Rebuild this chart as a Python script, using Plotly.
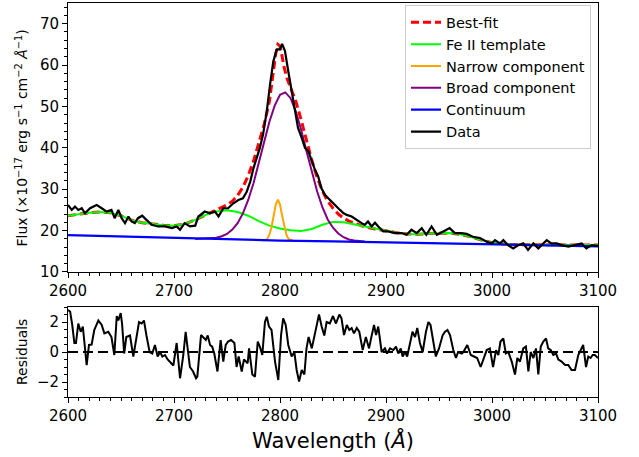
import plotly.graph_objects as go

# ---------------- data ----------------
wave_obs = [2600, 2603.5, 2606.6, 2609.7, 2613, 2616, 2620.8, 2627, 2631.8, 2636.5, 2641, 2644, 2647.5,
            2650.6, 2653.8, 2657, 2660, 2663, 2666, 2670, 2674, 2679, 2685, 2691.5, 2698, 2702.5, 2705.7,
            2710, 2715, 2720, 2723, 2729, 2734, 2738.7, 2742, 2746.5, 2751, 2756, 2760.7, 2765, 2768.6,
            2772, 2775, 2778, 2781, 2784, 2787.5, 2790.6, 2793.7, 2797, 2800, 2802, 2804.7, 2807.8, 2811,
            2814, 2817, 2820.5, 2823.6, 2826.7, 2830, 2833, 2836, 2839, 2842.5, 2847, 2852, 2856.6, 2860,
            2863, 2867.6, 2872, 2877, 2880, 2883, 2886.5, 2889.6, 2892.7, 2897.5, 2902, 2908.5, 2914.8,
            2919.5, 2924, 2929, 2933.7, 2938, 2943, 2948, 2954, 2960, 2965, 2971, 2976, 2982, 2988.7, 2995,
            2999.7, 3002.8, 3007.5, 3010.7, 3015, 3020, 3025, 3029.5, 3034, 3039, 3043.7, 3048, 3051.6,
            3056, 3061, 3065.7, 3072, 3078, 3084.6, 3089, 3094, 3100]
flux_obs = [26.2, 25.0, 25.8, 25.0, 25.4, 24.2, 25.4, 26.2, 25.4, 24.6, 25.0, 23.0, 25.0,
            23.0, 21.8, 23.4, 22.2, 21.8, 23.0, 23.6, 22.6, 21.4, 21.0, 21.0, 20.6, 21.0, 20.2,
            21.8, 21.0, 21.2, 23.4, 24.6, 24.2, 24.6, 23.4, 25.4, 25.4, 26.6, 27.4, 27.8, 29.4,
            31.9, 35.1, 37.5, 40.0, 43.2, 48.8, 55.3, 60.9, 63.8, 63.8, 65.1, 63.4, 58.5, 53.7,
            49.7, 44.8, 42.4, 40.0, 39.2, 36.8, 34.7, 33.1, 30.3, 28.6, 27.4, 26.2, 25.0, 24.2,
            23.8, 23.4, 22.6, 21.8, 21.4, 22.2, 21.0, 21.9, 21.0, 19.8, 19.8, 19.4, 19.4,
            19.0, 20.2, 19.4, 20.6, 19.0, 21.0, 19.0, 19.8, 20.6, 19.4, 19.4, 19.2, 18.5, 18.2, 17.3,
            16.9, 17.7, 16.9, 17.7, 16.5, 15.7, 16.5, 16.9, 15.3, 16.9, 15.7, 16.9, 17.7,
            16.9, 16.9, 16.5, 16.1, 16.5, 16.9, 15.7, 16.5, 16.3]

wave_fit = [2600, 2610, 2620, 2630, 2640, 2650, 2660, 2670, 2680, 2690, 2700, 2710, 2720, 2730, 2740,
            2745, 2750, 2755, 2760, 2765, 2770, 2775, 2780, 2785, 2790, 2793, 2796, 2798, 2800, 2802,
            2804, 2807, 2810, 2815, 2820, 2825, 2830, 2835, 2840, 2845, 2850, 2855, 2860, 2865, 2870,
            2875, 2880, 2890, 2900, 2910, 2920, 2930, 2940, 2950, 2960, 2970, 2980, 2990, 3000, 3010,
            3020, 3030, 3040, 3050, 3060, 3070, 3080, 3090, 3100]
flux_fit = [23.6, 24.0, 24.3, 24.5, 24.3, 23.6, 22.5, 21.9, 21.6, 21.3, 21.2, 21.6, 22.6, 23.8, 24.9,
            25.5, 26.2, 27.1, 28.5, 30.5, 33.3, 36.8, 40.9, 45.6, 51.2, 56.7, 62.8, 65.0, 64.6, 62.1,
            59.3, 56.5, 54.6, 51.2, 46.7, 41.8, 37.0, 32.9, 29.6, 27.1, 25.4, 24.0, 23.0, 22.3, 21.8,
            21.3, 20.9, 20.4, 19.9, 19.5, 19.2, 19.1, 19.3, 19.4, 19.4, 19.1, 18.5, 17.7, 17.1, 16.8,
            16.6, 16.6, 16.6, 16.6, 16.6, 16.6, 16.5, 16.5, 16.5]

wave_fe = [2600, 2610, 2620, 2630, 2640, 2650, 2660, 2670, 2680, 2690, 2700, 2710, 2720, 2730, 2740,
           2750, 2760, 2770, 2780, 2790, 2800, 2810, 2820, 2830, 2840, 2850, 2860, 2870, 2880, 2890,
           2900, 2910, 2920, 2930, 2940, 2950, 2960, 2970, 2980, 2990, 3000, 3010, 3020, 3030, 3040,
           3050, 3060, 3070, 3080, 3090, 3100]
flux_fe = [23.6, 24.0, 24.3, 24.5, 24.3, 23.6, 22.5, 21.9, 21.6, 21.3, 21.2, 21.6, 22.6, 23.8, 24.6,
           24.9, 24.5, 23.6, 22.3, 21.2, 20.5, 20.1, 19.9, 20.4, 21.4, 22.1, 22.0, 21.5, 20.9, 20.4,
           19.9, 19.5, 19.2, 19.1, 19.3, 19.4, 19.4, 19.1, 18.5, 17.7, 17.1, 16.8, 16.6, 16.6, 16.6,
           16.6, 16.6, 16.6, 16.5, 16.5, 16.5]

wave_narrow = [2784, 2786, 2788, 2790, 2792, 2794, 2796, 2798, 2800, 2802, 2804, 2806, 2808, 2810, 2812]
flux_narrow = [17.6, 17.7, 18.0, 19.0, 20.8, 23.6, 26.3, 27.5, 26.3, 23.6, 20.8, 19.0, 18.0, 17.7, 17.6]

wave_broad = [2720, 2730, 2740, 2745, 2750, 2755, 2760, 2765, 2770, 2775, 2780, 2785, 2790, 2795, 2800,
              2805, 2810, 2815, 2820, 2825, 2830, 2835, 2840, 2845, 2850, 2855, 2860, 2865, 2870, 2880]
flux_broad = [18.0, 18.1, 18.3, 18.65, 19.2, 20.25, 21.8, 24.15, 27.4, 31.45, 36.2, 41.4, 46.3, 50.2, 52.8,
              53.4, 52.0, 48.7, 44.3, 39.2, 34.1, 29.5, 25.65, 22.7, 20.7, 19.3, 18.4, 17.85, 17.6, 17.35]

wave_cont = [2600, 2650, 2700, 2750, 2800, 2850, 2900, 2950, 3000, 3050, 3100]
flux_cont = [18.9, 18.55, 18.2, 17.9, 17.6, 17.4, 17.2, 16.95, 16.7, 16.45, 16.2]

wave_res = [2600, 2602, 2604, 2606, 2607.5, 2609.7, 2612, 2614, 2615.4, 2617.6, 2619.8, 2622.3, 2624.8,
            2628.6, 2631.8, 2634.3, 2638, 2641, 2643.7, 2646, 2647.5, 2649.7, 2651, 2653, 2655, 2658.5,
            2661.6, 2663.8, 2667, 2669.5, 2671.7, 2674, 2677, 2679.5, 2682, 2684.6, 2686.8, 2689, 2691.5,
            2694, 2697, 2699.4, 2702.5, 2705.7, 2708.8, 2711, 2715, 2718, 2720.8, 2722, 2725.5, 2727.6,
            2730, 2731.8, 2734, 2736, 2738, 2741, 2744, 2746.5, 2748.8, 2751, 2753.8, 2757, 2759, 2761,
            2763.9, 2766, 2769.5, 2770.8, 2773.9, 2776.4, 2779, 2781, 2783.3, 2785.8, 2787.5, 2789.6,
            2792, 2795.3, 2798.4, 2801, 2803, 2805.4, 2807.8, 2811, 2813.5, 2815.7, 2818, 2820.5, 2823,
            2825, 2827, 2830, 2832.4, 2834.6, 2836.8, 2839.3, 2841.8, 2844, 2847, 2850, 2852.8, 2856,
            2858, 2860.4, 2863, 2865.4, 2867.6, 2869.8, 2872.4, 2874.8, 2878, 2881, 2884, 2886.5, 2888.7,
            2890.6, 2892.7, 2895.9, 2899, 2901, 2903.8, 2906.9, 2909.4, 2911.6, 2913.9, 2915.7, 2918,
            2920, 2922.6, 2925, 2927.4, 2929.5, 2932, 2934.6, 2937.7, 2940, 2942, 2944.6, 2947, 2950,
            2953.5, 2955.7, 2958, 2960.4, 2963.5, 2966, 2968, 2971.4, 2973, 2976.7, 2980, 2983, 2986,
            2989.3, 2991.8, 2995, 2998, 3001, 3003.8, 3006, 3008, 3010.7, 3013, 3015.4, 3018.6, 3021.7,
            3023.9, 3026.4, 3029.5, 3032, 3034.3, 3036.5, 3039, 3041.5, 3043.7, 3046, 3048.4, 3051,
            3053, 3055.4, 3057.8, 3060.4, 3062.6, 3065.7, 3068.9, 3072, 3075, 3078.3, 3081.4, 3083.7,
            3086, 3088.7, 3090.8, 3093, 3095, 3097, 3100]
res = [2.8, 2.7, 1.8, 0.6, 0.6, 1.9, 1.35, 1.7, 0.7, -0.87, 0.47, 0.5, 1.47,
       2.1, 1.8, 1.24, 1.35, 1.0, -0.2, 2.4, 2.1, 2.6, 1.9, -0.1, 1.0, 1.1,
       -0.3, 0.7, 2.0, 1.9, 2.1, 1.1, 0.0, -0.1, 0.47, -0.3, 0.0, -0.3, -0.2,
       -0.5, -0.75, -0.9, 0.6, -1.75, -0.2, 1.35, -1.0, -1.3, -1.75, -1.64, 1.13, 1.0,
       0.8, 1.1, 0.47, 0.36, -0.1, -1.3, 0.8, -0.64, 0.47, 0.7, 0.8, 0.6, -1.0, -0.3,
       -1.3, -0.5, -0.75, 0.24, -1.5, -1.64, 0.7, 0.36, -0.2, 2.0, 2.35, 1.7,
       1.47, -0.64, -1.87, 1.13, 2.24, 1.8, 0.47, -0.3, 0.0, -1.2, -1.97, -1.2, -1.5,
       0.24, 1.0, 0.24, 1.13, 1.8, 2.5, 1.7, 1.1, 2.0, 1.9, 2.4, 1.9, 2.5,
       2.24, 1.13, 1.8, 1.47, 1.6, 1.24, 1.6, 1.35, 0.13, 1.0, 0.24, 1.1, 1.8,
       1.13, 1.7, 0.0, 0.24, -0.1, 0.24, 0.13, 0.36, -0.1, 0.24, -0.3, 0.0,
       -0.3, 0.7, 1.35, 1.0, 1.6, 0.6, 0.0, 1.35, 2.0, 1.8, 0.7, -0.3, 0.24,
       1.13, 1.35, 1.47, 1.13, 0.13, -0.4, 0.0, -0.1, 0.0, 0.47, -0.2, -0.3, -0.4,
       -1.0, -0.5, 0.13, 0.24, -1.0, 0.13, -0.2, 0.7, 0.9, -0.1, 0.0, -0.64, -1.5,
       -0.4, -0.64, 0.24, 0.36, -1.3, 0.0, -0.4, 0.24, -1.5, 0.36, 0.7, 0.9,
       0.24, 0.13, -0.2, -0.1, -0.5, -0.64, -0.87, -0.87, -1.2, -1.2, -0.2, 0.13,
       0.47, -1.0, -0.3, -0.4, -0.2, -0.2, -0.4]

x_range = [2600, 3100]
flux_range = [10, 75]
res_range = [-3, 3]

# ---------------- figure ----------------
FONT = "DejaVu Sans"
fig = go.Figure()

fig.add_trace(go.Scatter(x=wave_fit, y=flux_fit, mode="lines", name="Best-fit",
                         line=dict(color="#ff0000", width=3, dash="8px,4px"), xaxis="x", yaxis="y"))
fig.add_trace(go.Scatter(x=wave_fe, y=flux_fe, mode="lines", name="Fe II template",
                         line=dict(color="#00ff00", width=2), xaxis="x", yaxis="y"))
fig.add_trace(go.Scatter(x=wave_narrow, y=flux_narrow, mode="lines", name="Narrow component",
                         line=dict(color="#ffa500", width=2), xaxis="x", yaxis="y"))
fig.add_trace(go.Scatter(x=wave_broad, y=flux_broad, mode="lines", name="Broad component",
                         line=dict(color="#800080", width=2), xaxis="x", yaxis="y"))
fig.add_trace(go.Scatter(x=wave_cont, y=flux_cont, mode="lines", name="Continuum",
                         line=dict(color="#0000ff", width=2.2), xaxis="x", yaxis="y"))
fig.add_trace(go.Scatter(x=wave_obs, y=flux_obs, mode="lines", name="Data",
                         line=dict(color="black", width=2.2), xaxis="x", yaxis="y"))

fig.add_trace(go.Scatter(x=wave_res, y=res, mode="lines", showlegend=False,
                         line=dict(color="black", width=2), xaxis="x2", yaxis="y2"))
fig.add_trace(go.Scatter(x=x_range, y=[0, 0], mode="lines", showlegend=False,
                         line=dict(color="black", width=2, dash="10px,5px"), xaxis="x2", yaxis="y2"))

axis_common = dict(showline=True, linecolor="black", linewidth=1, mirror=True, showgrid=False,
                   zeroline=False, ticks="outside", ticklen=5, tickwidth=1, tickcolor="black",
                   tickfont=dict(family=FONT, size=15, color="black"))

fig.update_layout(
    width=639, height=457,
    margin=dict(l=68, r=41, t=3, b=60),
    paper_bgcolor="white", plot_bgcolor="white",
    font=dict(family=FONT, color="black"),
    xaxis=dict(domain=[0, 1], range=x_range, anchor="y", dtick=100, tick0=2600,
               minor=dict(ticks="outside", ticklen=3, dtick=10, tickcolor="black"), **axis_common),
    yaxis=dict(domain=[0.3173, 1], range=flux_range, anchor="x", dtick=10, tick0=0,
               minor=dict(ticks="outside", ticklen=3, dtick=2, tickcolor="black"), **axis_common),
    xaxis2=dict(domain=[0, 1], range=x_range, anchor="y2", dtick=100, tick0=2600,
                minor=dict(ticks="outside", ticklen=3, dtick=10, tickcolor="black"), **axis_common),
    yaxis2=dict(domain=[0, 0.2284], range=res_range, anchor="x2", dtick=2, tick0=0,
                minor=dict(ticks="outside", ticklen=3, dtick=0.5, tickcolor="black"), **axis_common),
    legend=dict(x=0.9868, y=0.994, xanchor="right", yanchor="top",
                bgcolor="rgba(255,255,255,0.9)", bordercolor="#cccccc", borderwidth=1,
                font=dict(family=FONT, size=14.5, color="black"), tracegroupgap=0),
    annotations=[
        dict(text="Flux (×10<sup>−17</sup> erg s<sup>−1</sup> cm<sup>−2</sup> <i>Å</i><sup>−1</sup>)",
             xref="paper", yref="paper", x=-0.0868, y=0.6587, xanchor="center", yanchor="middle",
             textangle=-90, showarrow=False, font=dict(family=FONT, size=14, color="black")),
        dict(text="Residuals", xref="paper", yref="paper", x=-0.0868, y=0.1142,
             xanchor="center", yanchor="middle", textangle=-90, showarrow=False,
             font=dict(family=FONT, size=14, color="black")),
        dict(text="Wavelength (<i>Å</i>)", xref="paper", yref="paper", x=0.5, y=-0.109,
             xanchor="center", yanchor="middle", showarrow=False,
             font=dict(family=FONT, size=21, color="black")),
    ],
)

fig.write_html("out.html", config={"displayModeBar": False},
               post_script="document.body.style.margin='0px';document.body.style.overflow='hidden';")
